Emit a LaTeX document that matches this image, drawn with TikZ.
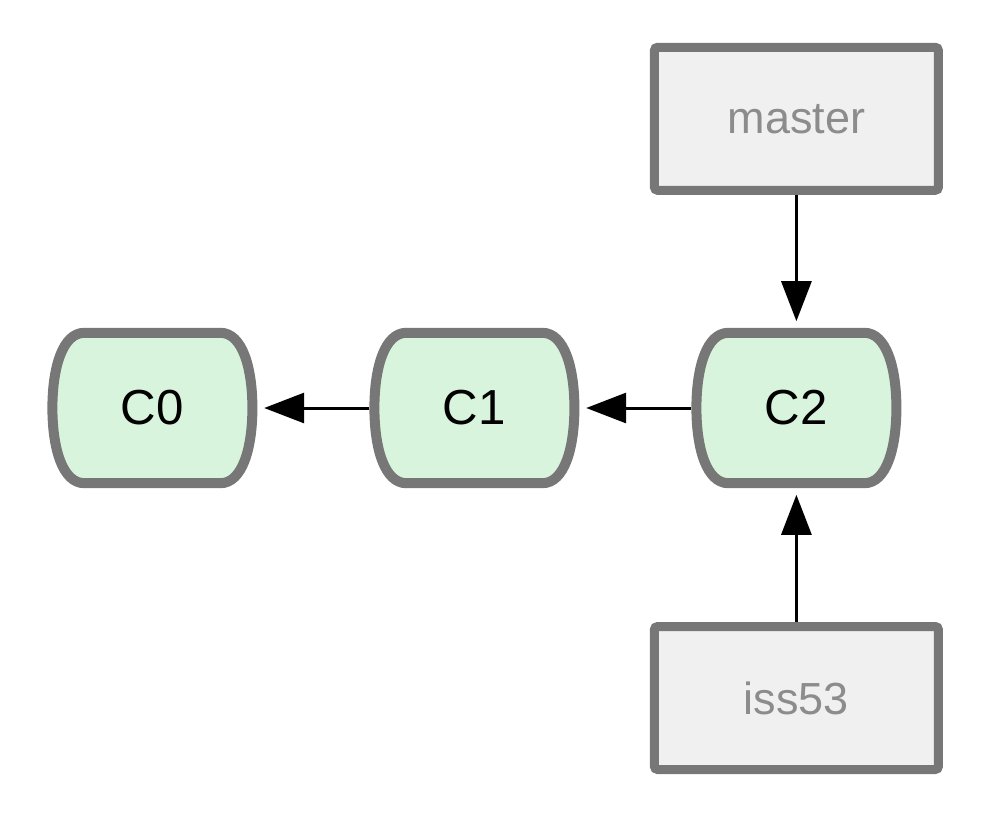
\documentclass[tikz,border=0pt]{standalone}
\usepackage{fontspec}
\setmainfont{Liberation Sans}
\usetikzlibrary{positioning}
\usetikzlibrary{backgrounds}
\usetikzlibrary{arrows.meta}
\definecolor{commitfill}{HTML}{D9F4DD}
\definecolor{boxline}{HTML}{777777}
\definecolor{branchfill}{HTML}{F0F0F0}
\definecolor{branchtext}{HTML}{8C8C8C}
\tikzset{node distance=2.8cm, % gap between the commits
  every node/.style={align=center},
  commit/.style={ % a commit, outline drawn behind it
    rectangle, inner sep=0pt, outer sep=0pt,
    minimum width=5.25cm, minimum height=4cm,
    font=\fontsize{35}{40}\selectfont},
  commitline/.style={ % outline of a commit
    draw=boxline, line width=0.25cm, fill=commitfill},
  branch/.style={ % a branch pointer
    rectangle, rounded corners=0.08cm,
    draw=boxline, line width=0.225cm, fill=branchfill,
    text=branchtext, minimum width=7.1cm, minimum height=3.575cm,
    font=\fontsize{32}{38}\selectfont},
  pointer/.style={ % arrow to the parent
    draw, line width=0.075cm, shorten >=0.17cm,
    -{Triangle[length=1cm 0 0, width=0.75cm 0 0]}}}

\begin{document}
\begin{tikzpicture}
  \useasboundingbox (0,0) rectangle (24.775,-20.5);

  \node [commit] (c0) at (3.81,-10.2) {C0};
  \node [commit, right=of c0] (c1) {C1};
  \node [commit, right=of c1] (c2) {C2};
  \node [branch, above=3.33cm of c2] (master) {master};
  \node [branch, below=3.35cm of c2] (iss53) {iss53};

  \begin{scope}[on background layer]
    \foreach \c in {c0,c1,c2}
      \draw [commitline, shift={(\c.center)}] (-1.7,1.88) -- (1.7,1.88)
        .. controls (2.25,1.88) and (2.5,1.0) .. (2.5,0)
        .. controls (2.5,-1.0) and (2.25,-1.88) .. (1.7,-1.88)
        -- (-1.7,-1.88)
        .. controls (-2.25,-1.88) and (-2.5,-1.0) .. (-2.5,0)
        .. controls (-2.5,1.0) and (-2.25,1.88) .. cycle;
  \end{scope}

  \draw [pointer] (c1) -- (c0);
  \draw [pointer] (c2) -- (c1);
  \draw [pointer] (master) -- (c2);
  \draw [pointer] (iss53) -- (c2);
\end{tikzpicture}
\end{document}
